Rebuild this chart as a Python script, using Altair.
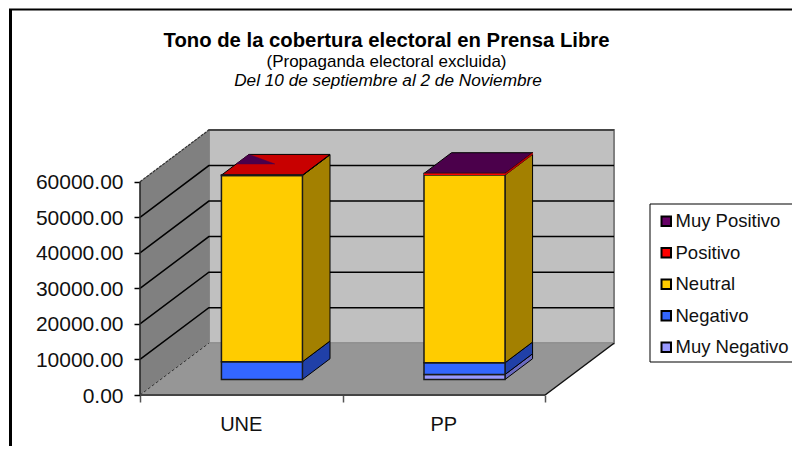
import altair as alt
import pandas as pd

categories = ["UNE", "PP"]
series = ["Muy Negativo", "Negativo", "Neutral", "Positivo", "Muy Positivo"]
une_values = [0, 5000, 52400, 100, 0]
pp_values = [1400, 3300, 52800, 450, 30]
tick_values = [0, 10000, 20000, 30000, 40000, 50000, 60000]
legend_order = ["Muy Positivo", "Positivo", "Neutral", "Negativo", "Muy Negativo"]
legend_colors = ["#660066", "#FF0000", "#FFCC00", "#3366FF", "#9999FF"]
side_colors = {"Muy Negativo": "#6A6AC0", "Negativo": "#2040A8", "Neutral": "#A38000",
               "Positivo": "#C00000", "Muy Positivo": "#4B004B"}
top_colors = {"UNE": "#C80000", "PP": "#4B004B"}
triangle = [(0, 0.54), (0.475, 0.54), (0, 1)]

DX, DV = 0.34, 14566          # oblique projection of the depth axis
D1, D2 = 0.30, 0.70           # bar depth range
BAR0, BAR1 = 0.30, 0.70       # bar extent within a category
XMAX, VMAX = 2 + DX, 60000 + DV

xs = alt.Scale(domain=[0, XMAX], nice=False, zero=False)
ys = alt.Scale(domain=[0, VMAX], nice=False, zero=False)
x_axis = alt.Axis(values=[0, 1, 2], labels=False, title=None, domain=False,
                  grid=False, tickSize=7, tickColor="#555555", tickWidth=1.5)
y_axis = alt.Axis(values=tick_values, format=".2f", title=None, domain=False,
                  grid=False, tickSize=6, tickColor="black", tickWidth=1.5,
                  labelFontSize=21, labelFont="Liberation Sans", labelColor="#111111",
                  labelPadding=11, labelOffset=1)
NOX = alt.X("x:Q", scale=xs, axis=x_axis)
NOY = alt.Y("y:Q", scale=ys, axis=y_axis)


def px(x, d):
    return x + d * DX


def pv(v, d):
    return v + d * DV


def vertical(x0, x1, a0, a1, b0, b1, fill, stroke="black", sw=1):
    df = pd.DataFrame({"x": [x0, x1], "y": [a0, b0], "y2": [a1, b1]})
    return alt.Chart(df).mark_area(orient="vertical", fill=fill, stroke=stroke, strokeWidth=sw).encode(
        x=NOX, y=NOY, y2="y2:Q")


def horizontal(y0, y1, a0, a1, b0, b1, fill, stroke="black", sw=1):
    df = pd.DataFrame({"y": [y0, y1], "x": [a0, b0], "x2": [a1, b1]})
    return alt.Chart(df).mark_area(orient="horizontal", fill=fill, stroke=stroke, strokeWidth=sw).encode(
        y=NOY, x=NOX, x2="x2:Q")


def polyline(pts, color="black", sw=1.5, dash=None):
    df = pd.DataFrame({"x": [p[0] for p in pts], "y": [p[1] for p in pts], "i": range(len(pts))})
    kw = {"strokeDash": dash} if dash else {}
    return alt.Chart(df).mark_line(color=color, strokeWidth=sw, **kw).encode(x=NOX, y=NOY, order="i:Q")


layers = []

# walls and floor
layers.append(vertical(px(0, 1), px(2, 1), pv(0, 1), pv(60000, 1), pv(0, 1), pv(60000, 1), "#C0C0C0", "#808080", 2))
layers.append(vertical(0, DX, 0, 60000, DV, VMAX, "#808080", "#808080", 0.5))
layers.append(horizontal(0, DV, 0, 2, DX, XMAX, "#969696", "#969696", 0.5))

# gridlines
for v in tick_values[1:-1]:
    layers.append(polyline([(0, v), (DX, pv(v, 1)), (XMAX, pv(v, 1))]))
layers.append(polyline([(DX, VMAX), (XMAX, VMAX)], "#333333", 1.5))
layers.append(polyline([(0, 60000), (DX, VMAX)], "#333333", 1.2, [3, 1]))
layers.append(polyline([(0, 0), (DX, DV)], "#333333", 1, [3, 2]))
layers.append(polyline([(0, 0), (0, 60000)], "#222222", 1.5))
layers.append(polyline([(0, 0), (2, 0)], "#444444", 2))
layers.append(polyline([(2, 0), (XMAX, DV)], "#111111", 1.5))

# bars
rows = []
stripes = []
stripe_rows = []
for c, (cat, vals) in enumerate(zip(categories, [une_values, pp_values])):
    x0, x1 = c + BAR0, c + BAR1
    base = 0
    for s, v in zip(series, vals):
        top = base + v
        row = dict(serie=s, x=px(x0, D1), x2=px(x1, D1), y=pv(base, D1), y2=pv(top, D1))
        if 200 <= v < 1000:
            stripe_rows.append(row)
            stripes.append(vertical(px(x1, D1), px(x1, D2), pv(base, D1), pv(top, D1), pv(base, D2), pv(top, D2),
                                    side_colors[s], side_colors[s], 0.3))
        else:
            rows.append(row)
            if v > 0:
                layers.append(vertical(px(x1, D1), px(x1, D2), pv(base, D1), pv(top, D1), pv(base, D2), pv(top, D2),
                                       side_colors[s]))
        base = top
    layers.append(horizontal(pv(base, D1), pv(base, D2), px(x0, D1), px(x1, D1), px(x0, D2), px(x1, D2),
                             top_colors[cat], "black", 1))
    if cat == "UNE":
        w0, w1 = triangle[0][1], triangle[2][1]
        u1 = triangle[1][0]
        dd0 = D1 + (D2 - D1) * w0
        dd1 = D1 + (D2 - D1) * w1
        w = x1 - x0
        layers.append(horizontal(pv(base, dd0), pv(base, dd1), px(x0, dd0), px(x0 + u1 * w, dd0),
                                 px(x0, dd1), px(x0, dd1), "#4B004B", "#4B004B", 0.5))

color_enc = alt.Color("serie:N", scale=alt.Scale(domain=legend_order, range=legend_colors),
                      legend=alt.Legend(title=None, orient="none", legendX=509, legendY=74, padding=8,
                                        symbolType="square",
                                        symbolSize=90, symbolStrokeColor="black", symbolStrokeWidth=2,
                                        labelFontSize=18.5, labelFont="Liberation Sans", labelColor="#111111",
                                        labelOffset=0, rowPadding=12.5, values=legend_order))

front = pd.DataFrame(rows)
front = front[front.y2 > front.y + 20]
layers.append(alt.Chart(front).mark_rect(stroke="#1a1a1a", strokeWidth=1.5).encode(
    x=NOX, x2="x2:Q", y=NOY, y2="y2:Q", color=color_enc))
layers.append(alt.Chart(pd.DataFrame(stripe_rows)).mark_rect().encode(
    x=NOX, x2="x2:Q", y=NOY, y2="y2:Q", color=color_enc))
layers.extend(stripes)

# category labels
cat_df = pd.DataFrame({"x": [i + 0.5 for i in range(len(categories))], "t": categories})
layers.append(alt.Chart(cat_df).mark_text(fontSize=20, font="Liberation Sans", color="#111111").encode(
    x=NOX, y=alt.value(295), text="t:N"))


def label(text, x, y, size, **kw):
    return alt.Chart(pd.DataFrame({"t": [text]})).mark_text(
        fontSize=size, font="Liberation Sans", color="black", **kw
    ).encode(x=alt.value(x), y=alt.value(y), text="t:N")


layers.append(label("Tono de la cobertura electoral en Prensa Libre", 246.5, -89, 20.3, fontWeight="bold"))
layers.append(label("(Propaganda electoral excluida)", 246.5, -68, 17))
layers.append(label("Del 10 de septiembre al 2 de Noviembre", 248, -49, 17.2, fontStyle="italic"))

# picture frame and legend frame
frame_df = pd.DataFrame({"k": ["a"]})
layers.append(alt.Chart(frame_df).mark_rule(color="black", strokeWidth=3).encode(
    x=alt.value(-129.5), y=alt.value(-121), y2=alt.value(316)))
layers.append(alt.Chart(frame_df).mark_rule(color="black", strokeWidth=2).encode(
    x=alt.value(-131), x2=alt.value(660), y=alt.value(-120.5)))
layers.append(alt.Chart(frame_df).mark_rule(color="#808080", strokeWidth=2).encode(
    x=alt.value(510), y=alt.value(74), y2=alt.value(232)))
layers.append(alt.Chart(frame_df).mark_rule(color="black", strokeWidth=1.2).encode(
    x=alt.value(510), x2=alt.value(660), y=alt.value(74)))
layers.append(alt.Chart(frame_df).mark_rule(color="black", strokeWidth=1.2).encode(
    x=alt.value(510), x2=alt.value(660), y=alt.value(232)))

chart = alt.layer(*layers).properties(
    width=474, height=265, background="white",
    padding={"left": 132, "top": 122, "right": 178, "bottom": 51},
    autosize=alt.AutoSizeParams(type="none"),
).resolve_scale(x="shared", y="shared").configure_view(stroke=None)

chart.save("out.html", embed_options={"renderer": "svg", "actions": False})
